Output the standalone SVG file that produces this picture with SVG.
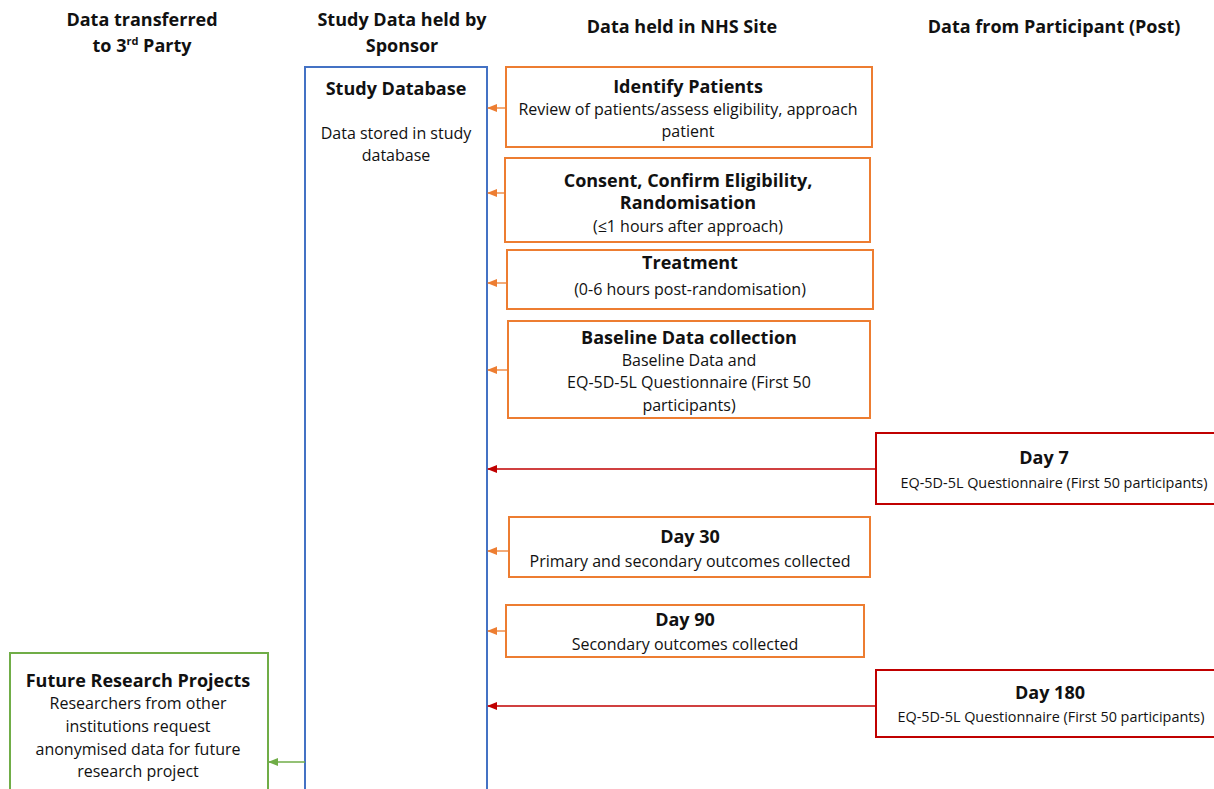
<svg xmlns="http://www.w3.org/2000/svg" width="1214" height="789" viewBox="0 0 1214 789">
<style>
text{font-family:"Open Sans",Lato,"Liberation Sans",sans-serif;fill:#111;text-anchor:middle}
.h{font-weight:bold;font-size:18px}
.t{font-weight:bold;font-size:18px}
.b{font-size:16px}
.s{font-size:14.4px}
.o{fill:#fff;stroke:#ED7D31;stroke-width:2}
.r{fill:#fff;stroke:#C00000;stroke-width:2}
.bl{fill:#fff;stroke:#4472C4;stroke-width:2}
.g{fill:#fff;stroke:#70AD47;stroke-width:2}
.ao{stroke:#ED7D31;stroke-width:1.3;fill:none}
.ar{stroke:#C00000;stroke-width:1.3;fill:none}
.ag{stroke:#70AD47;stroke-width:1.3;fill:none}
</style>
<defs>
<marker id="mo" markerWidth="10" markerHeight="8" refX="9" refY="4" orient="auto" markerUnits="userSpaceOnUse"><path d="M0,0 L10,4 L0,8 z" fill="#ED7D31"/></marker>
<marker id="mr" markerWidth="10" markerHeight="8" refX="9" refY="4" orient="auto" markerUnits="userSpaceOnUse"><path d="M0,0 L10,4 L0,8 z" fill="#C00000"/></marker>
<marker id="mg" markerWidth="10" markerHeight="8" refX="9" refY="4" orient="auto" markerUnits="userSpaceOnUse"><path d="M0,0 L10,4 L0,8 z" fill="#70AD47"/></marker>
</defs>
<rect width="1214" height="789" fill="#fff"/>
<g id="headers">
<text class="h" x="142" y="26">Data transferred</text>
<text class="h" x="142" y="52">to 3<tspan font-size="11" dy="-7">rd</tspan><tspan dy="7"> Party</tspan></text>
<text class="h" x="402" y="26">Study Data held by</text>
<text class="h" x="402" y="52">Sponsor</text>
<text class="h" x="682" y="33">Data held in NHS Site</text>
<text class="h" x="1054" y="33">Data from Participant (Post)</text>
</g>
<g id="study-database">
<path class="bl" d="M305,795 V67 H487 V795"/>
<text class="t" x="396" y="95" font-size="21">Study Database</text>
<text class="b" x="396" y="139">Data stored in study</text>
<text class="b" x="396" y="161">database</text>
</g>
<g id="identify-patients">
<rect class="o" x="506" y="67" width="366" height="80"/>
<text class="t" x="688" y="93">Identify Patients</text>
<text class="b" x="688" y="115">Review of patients/assess eligibility, approach</text>
<text class="b" x="688" y="137">patient</text>
</g>
<g id="consent">
<rect class="o" x="505" y="158" width="365" height="84"/>
<text class="t" x="688" y="187">Consent, Confirm Eligibility,</text>
<text class="t" x="688" y="209">Randomisation</text>
<text class="b" x="688" y="232">(≤1 hours after approach)</text>
</g>
<g id="treatment">
<rect class="o" x="507" y="250" width="366" height="59"/>
<text class="t" x="690" y="269">Treatment</text>
<text class="b" x="690" y="295">(0-6 hours post-randomisation)</text>
</g>
<g id="baseline">
<rect class="o" x="508" y="321" width="362" height="97"/>
<text class="t" x="689" y="344">Baseline Data collection</text>
<text class="b" x="689" y="366">Baseline Data and</text>
<text class="b" x="689" y="388">EQ-5D-5L Questionnaire (First 50</text>
<text class="b" x="689" y="411">participants)</text>
</g>
<g id="day7">
<rect class="r" x="876" y="433" width="345" height="71"/>
<text class="t" x="1044" y="464">Day 7</text>
<text class="s" x="1054" y="488">EQ-5D-5L Questionnaire (First 50 participants)</text>
</g>
<g id="day30">
<rect class="o" x="509" y="517" width="361" height="60"/>
<text class="t" x="690" y="543">Day 30</text>
<text class="b" x="690" y="567">Primary and secondary outcomes collected</text>
</g>
<g id="day90">
<rect class="o" x="506" y="605" width="358" height="52"/>
<text class="t" x="685" y="626">Day 90</text>
<text class="b" x="685" y="650">Secondary outcomes collected</text>
</g>
<g id="day180">
<rect class="r" x="876" y="670" width="345" height="67"/>
<text class="t" x="1050" y="699">Day 180</text>
<text class="s" x="1051" y="722">EQ-5D-5L Questionnaire (First 50 participants)</text>
</g>
<g id="future-research">
<rect class="g" x="10" y="653" width="258" height="145"/>
<text class="t" x="138" y="687">Future Research Projects</text>
<text class="b" x="138" y="709">Researchers from other</text>
<text class="b" x="138" y="732">institutions request</text>
<text class="b" x="138" y="755">anonymised data for future</text>
<text class="b" x="138" y="777">research project</text>
</g>
<g id="connectors">
<line class="ao" x1="506" y1="108" x2="488" y2="108" marker-end="url(#mo)"/>
<line class="ao" x1="505" y1="193" x2="488" y2="193" marker-end="url(#mo)"/>
<line class="ao" x1="507" y1="283" x2="488" y2="283" marker-end="url(#mo)"/>
<line class="ao" x1="508" y1="370" x2="488" y2="370" marker-end="url(#mo)"/>
<line class="ao" x1="509" y1="551" x2="488" y2="551" marker-end="url(#mo)"/>
<line class="ao" x1="506" y1="631" x2="488" y2="631" marker-end="url(#mo)"/>
<line class="ar" x1="876" y1="469" x2="488" y2="469" marker-end="url(#mr)"/>
<line class="ar" x1="876" y1="706" x2="488" y2="706" marker-end="url(#mr)"/>
<line class="ag" x1="305" y1="762" x2="269" y2="762" marker-end="url(#mg)"/>
</g>
</svg>
